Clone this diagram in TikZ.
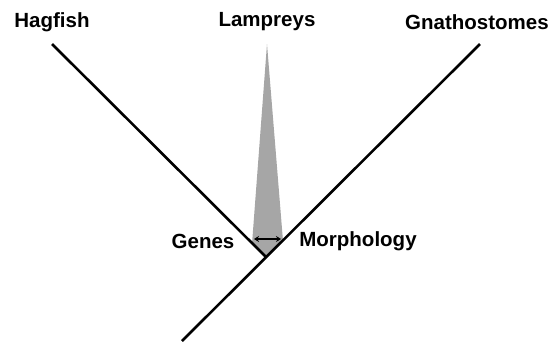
\documentclass[tikz,border=0pt]{standalone}
\usepackage{fontspec}
\setmainfont{Liberation Sans}
\usetikzlibrary{arrows.meta}
\begin{document}
\begin{tikzpicture}[x=1pt,y=-1pt,
  branch/.style={line width=2.6pt},
  lab/.style={font=\fontsize{20.5}{24}\selectfont\bfseries, inner sep=0pt}]
\useasboundingbox (0,0) rectangle (558,341);
\coordinate (hag) at (52,44);
\coordinate (gna) at (480,44);
\coordinate (root) at (182,341);
\coordinate (junc) at (266,257);
\coordinate (apex) at (267,44);
\coordinate (gl) at (252,244);
\coordinate (gr) at (283,241);
\fill[gray!70] (apex) -- (gl) -- (junc) -- (gr) -- cycle;
\draw[branch] (hag) -- (junc);
\draw[branch] (gna) -- (root);
\coordinate (al) at (254,239);
\coordinate (ar) at (281,239);
\draw[line width=1.4pt, {Stealth[length=5pt,width=6pt]}-{Stealth[length=5pt,width=6pt]}] (al) -- (ar);
\node[lab] (thag) at (52,22) {Hagfish};
\node[lab] (tlam) at (267,22) {Lampreys};
\node[lab] (tgna) at (477,22) {Gnathostomes};
\node[lab] (tgen) at (203,241) {Genes};
\node[lab] (tmor) at (358,241) {Morphology};
\end{tikzpicture}
\end{document}
